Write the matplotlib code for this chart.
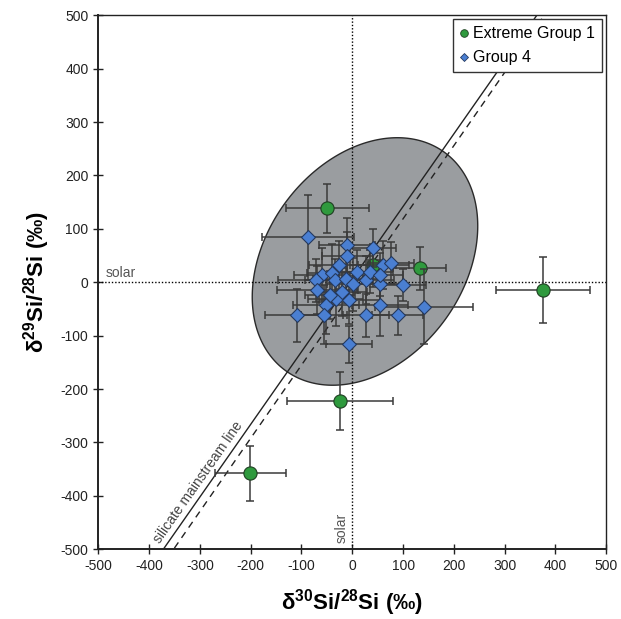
import numpy as np
import matplotlib
matplotlib.use("Agg")
import matplotlib.pyplot as plt
from matplotlib.lines import Line2D

plt.rcParams['font.family'] = ['Liberation Sans', 'DejaVu Sans']
plt.rcParams['mathtext.fontset'] = 'custom'
plt.rcParams['mathtext.rm'] = 'Liberation Sans'
plt.rcParams['mathtext.bf'] = 'Liberation Sans:bold'
plt.rcParams['mathtext.it'] = 'Liberation Sans:italic'
plt.rcParams['axes.unicode_minus'] = False

# ---- data ----
green_x = [-49, 41, 133, 375, -24, -201]
green_y = [139, 32, 26, -14, -222, -358]
green_xerr = [81, 45, 52, 92, 104, 70]
green_yerr = [46, 40, 40, 62, 54, 51]

blue_x = [-87, -11, -10, 41, -26, -60, -71, -69, -40, -34, -12, 1, 10, 27, 35, 61,
          76, 55, 100, -33, -21, -6, -52, -109, -55, 27, 55, 89, 141, -6, -44, 55]
blue_y = [84, 70, 50, 64, 32, 14, 4, -14, 17, 4, 7, -4, 20, 4, 20, 32,
          36, -4, -5, -31, -18, -33, -42, -62, -61, -62, -42, -62, -46, -116, -24, 14]
blue_xerr = [90, 55, 50, 45, 60, 55, 75, 80, 50, 60, 65, 50, 45, 55, 45, 50,
             45, 50, 45, 55, 50, 60, 65, 63, 45, 45, 55, 50, 97, 45, 50, 45]
blue_yerr = [80, 50, 45, 35, 45, 50, 40, 45, 55, 40, 45, 50, 40, 45, 40, 45,
             40, 45, 30, 50, 45, 45, 55, 50, 55, 40, 58, 37, 70, 35, 45, 40]

# mainstream lines: slope, intercept
solid_line = (1.36, 6)
dashed_line = (1.37, -18)

# ellipse (center in data units, semi-axes in screen pixels, angle in screen degrees)
ell_center = (25, 39)
ell_semi_px = (135, 99)
ell_angle_deg = 54

ticks = list(range(-500, 501, 100))

# ---- figure ----
fig = plt.figure(figsize=(6.21, 6.19), dpi=100)
ax = fig.add_axes([0.1583, 0.1126, 0.8180, 0.8627])
ax.set_xlim(-500, 500)
ax.set_ylim(-500, 500)

# ellipse computed in pixel space, mapped to data
bbox = ax.get_position()
sx = bbox.width * fig.get_figwidth() * fig.dpi / 1000.0
sy = bbox.height * fig.get_figheight() * fig.dpi / 1000.0
t = np.linspace(0, 2 * np.pi, 400)
th = np.deg2rad(ell_angle_deg)
a, b = ell_semi_px
u = a * np.cos(th) * np.cos(t) - b * np.sin(th) * np.sin(t)
v = a * np.sin(th) * np.cos(t) + b * np.cos(th) * np.sin(t)
ax.fill(ell_center[0] + u / sx, ell_center[1] + v / sy, facecolor='#9a9da0',
        edgecolor='#2a2a2a', lw=1.0, zorder=1)

# solar lines
ax.axhline(0, color='black', lw=1.0, dashes=(1, 1.4), zorder=2)
ax.axvline(0, color='black', lw=1.0, dashes=(1, 1.4), zorder=2)

# mainstream lines
xs = np.array([-500, 500])
ax.plot(xs, solid_line[0] * xs + solid_line[1], color='#222222', lw=1.0, zorder=2)
ax.plot(xs, dashed_line[0] * xs + dashed_line[1], color='#222222', lw=1.0,
        dashes=(5, 4), zorder=2)

ax.text(-373, -493, 'silicate mainstream line', rotation=np.degrees(np.arctan(solid_line[0])),
        transform_rotates_text=True, rotation_mode='anchor', ha='left', va='bottom',
        fontsize=10, color='#444444', zorder=3)
ax.text(-485, 4, 'solar', ha='left', va='bottom', fontsize=10, color='#555555', zorder=3)
ax.text(-7, -488, 'solar', rotation=90, ha='right', va='bottom', fontsize=10,
        color='#555555', zorder=3)

# data
ax.errorbar(green_x, green_y, xerr=green_xerr, yerr=green_yerr, fmt='none',
            ecolor='#3a3a3a', elinewidth=1.1, capsize=3, capthick=1.1, zorder=3)
ax.plot(green_x, green_y, 'o', ms=9.5, mfc='#2f9a3e', mec='#1f3f22', mew=0.8,
        ls='none', zorder=4)
ax.errorbar(blue_x, blue_y, xerr=blue_xerr, yerr=blue_yerr, fmt='none',
            ecolor='#3a3a3a', elinewidth=1.1, capsize=3, capthick=1.1, zorder=5)
ax.plot(blue_x, blue_y, 'D', ms=7.3, mfc='#4a7fd2', mec='#24395e', mew=0.8,
        ls='none', zorder=6)

# axes styling
ax.set_xticks(ticks)
ax.set_yticks(ticks)
ax.tick_params(direction='inout', length=7, width=1, labelsize=10, colors='#222222',
               top=False, right=False)
for s in ax.spines.values():
    s.set_linewidth(1.0)
    s.set_color('#222222')
ax.spines['left'].set_linewidth(1.4)
ax.spines['bottom'].set_linewidth(1.4)

ax.set_xlabel(r'$\mathbf{\delta^{30}Si/^{28}Si\ (‰)}$', fontsize=16, labelpad=10)
ax.set_ylabel(r'$\mathbf{\delta^{29}Si/^{28}Si\ (‰)}$', fontsize=16, labelpad=6)

handles = [
    Line2D([], [], marker='o', ls='none', ms=5.5, mfc='#2f9a3e', mec='#1f3f22', mew=0.6,
           label='Extreme Group 1'),
    Line2D([], [], marker='D', ls='none', ms=4, mfc='#4a7fd2', mec='#24395e', mew=0.6,
           label='Group 4'),
]
leg = ax.legend(handles=handles, loc='upper right', fontsize=11.5, frameon=True,
                fancybox=False, edgecolor='#333333', framealpha=1, borderaxespad=0.25,
                handlelength=0.5, handletextpad=0.3, labelspacing=0.55, borderpad=0.45)
leg.get_frame().set_linewidth(1.0)
leg.set_zorder(10)

fig.savefig('out.png', dpi=100)
